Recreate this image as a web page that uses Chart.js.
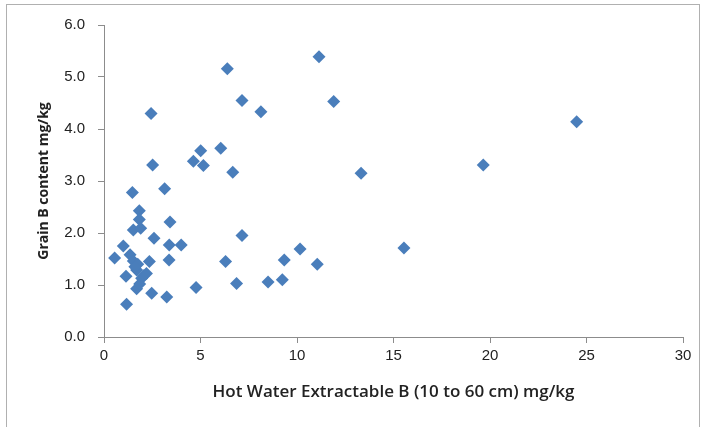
<!DOCTYPE html>
<html>
<head>
<meta charset="utf-8">
<script src="https://cdn.jsdelivr.net/npm/chart.js@4.4.1/dist/chart.umd.min.js"></script>
<style>
  html, body { margin: 0; padding: 0; background: #fff; }
  #wrap { position: relative; width: 704px; height: 427px; overflow: hidden; }
  #frame { position: absolute; left: 6px; top: 4px; width: 694px; height: 440px; border: 1px solid #b0b0b0; box-sizing: border-box; }
  canvas { position: absolute; left: 0; top: 0; }
</style>
</head>
<body>
<div id="wrap">
  <div id="frame"></div>
  <canvas id="c" width="704" height="427"></canvas>
</div>
<script>
// Hot water extractable B (10 to 60 cm), mg/kg
const hotWaterB = [
  2.44, 2.52, 1.47, 3.14,
  6.39, 11.14, 7.15, 11.9, 8.13,
  6.05, 5.01, 4.63, 5.15, 6.67, 13.32,
  24.49, 19.65, 15.54,
  1.83, 1.83, 3.42, 1.52, 1.90, 2.59, 1.00, 3.38, 4.00, 7.15,
  0.55, 1.35, 1.52, 1.75, 2.35, 3.37, 6.30, 10.16, 9.34, 11.05,
  1.14, 1.69, 1.95, 2.20, 1.69, 1.85, 2.47, 3.25, 4.77, 1.17, 6.87, 8.50, 9.24,
  1.60, 2.05
];
// Grain B content, mg/kg
const grainB = [
  4.30, 3.31, 2.78, 2.85,
  5.16, 5.39, 4.55, 4.53, 4.33,
  3.63, 3.58, 3.38, 3.30, 3.17, 3.15,
  4.14, 3.31, 1.71,
  2.43, 2.26, 2.21, 2.06, 2.09, 1.90, 1.75, 1.77, 1.77, 1.95,
  1.52, 1.58, 1.46, 1.40, 1.45, 1.48, 1.45, 1.69, 1.48, 1.40,
  1.17, 1.29, 1.13, 1.22, 0.93, 1.02, 0.84, 0.77, 0.95, 0.63, 1.03, 1.06, 1.10,
  1.35, 1.18
];
const xTitle = 'Hot Water Extractable B (10 to 60 cm) mg/kg';
const yTitle = 'Grain B content mg/kg';

const points = hotWaterB.map((x, i) => ({ x: x, y: grainB[i] }));
const axisColor = '#8c8c8c';
const tickFont = { family: "'Liberation Sans', 'DejaVu Sans', sans-serif", size: 15 };

new Chart(document.getElementById('c'), {
  type: 'scatter',
  data: {
    datasets: [{
      data: points,
      pointStyle: 'rectRot',
      pointRadius: 6.5,
      pointHoverRadius: 6.5,
      backgroundColor: '#4a7ebb',
      borderColor: '#4a7ebb',
      borderWidth: 0
    }]
  },
  options: {
    responsive: false,
    animation: false,
    events: [],
    layout: { padding: { left: 0, top: 25, right: 21, bottom: 0 } },
    plugins: { legend: { display: false }, tooltip: { enabled: false } },
    scales: {
      x: {
        type: 'linear',
        min: 0, max: 30,
        ticks: { stepSize: 5, color: '#222', font: tickFont, padding: 4 },
        grid: { drawOnChartArea: false, drawTicks: true, tickLength: 6, color: axisColor, tickColor: axisColor },
        border: { display: true, color: axisColor, width: 1 },
        title: { display: true, text: xTitle, color: '#222', font: { family: "'Open Sans', sans-serif", size: 17, weight: '600' }, padding: { top: 0, bottom: 25 } },
        afterFit: s => { s.height = 90; }
      },
      y: {
        type: 'linear',
        min: 0, max: 6,
        ticks: { stepSize: 1, color: '#222', font: tickFont, padding: 13, callback: v => v.toFixed(1) },
        grid: { drawOnChartArea: false, drawTicks: true, tickLength: 6, color: axisColor, tickColor: axisColor },
        border: { display: true, color: axisColor, width: 1 },
        title: { display: true, text: yTitle, color: '#222', font: { family: "'Open Sans', sans-serif", size: 14, weight: 'bold' }, padding: { top: 36, bottom: 0 } },
        afterFit: s => { s.width = 104; }
      }
    }
  }
});
</script>
</body>
</html>
